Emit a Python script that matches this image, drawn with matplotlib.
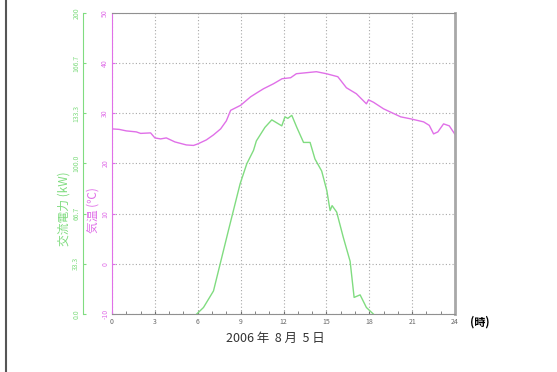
import numpy as np
import matplotlib
matplotlib.use('Agg')
from matplotlib import pyplot as plt
from matplotlib.lines import Line2D
from matplotlib.ticker import MultipleLocator

plt.rcParams['font.family'] = ['Noto Sans CJK JP', 'DejaVu Sans']

# temperature (C)
tempHours = [0.0, 0.5, 1.0, 1.7, 2.0, 2.7, 3.0, 3.4, 3.8, 4.4, 5.2, 5.7, 6.0, 6.6, 7.1, 7.6, 8.0,
             8.3, 9.0, 9.7, 10.2, 10.6, 11.3, 11.9, 12.5, 12.9, 13.6, 14.3, 15.0, 15.8, 16.4,
             17.1, 17.8, 17.95, 18.3, 19.0, 19.6, 20.2, 20.9, 21.8, 22.2, 22.5, 22.8, 23.2,
             23.6, 24.0]
tempValues = [26.9, 26.8, 26.5, 26.3, 26.0, 26.1, 25.1, 24.9, 25.1, 24.3, 23.7, 23.6, 23.9, 24.7,
              25.7, 26.9, 28.5, 30.6, 31.6, 33.3, 34.2, 34.9, 35.9, 36.9, 37.1, 37.9, 38.1,
              38.3, 37.9, 37.3, 35.1, 33.9, 31.9, 32.7, 32.2, 30.9, 30.1, 29.3, 28.9, 28.3,
              27.6, 25.9, 26.3, 27.9, 27.5, 25.8]

# AC power (kW)
powerHours = [5.93, 6.4, 7.1, 7.56, 8.14, 8.96, 9.43, 9.9, 10.1, 10.7, 11.18, 11.88, 12.1, 12.3,
              12.58, 12.93, 13.4, 13.86, 14.2, 14.67, 15.03, 15.26, 15.4, 15.72, 16.18, 16.66,
              16.94, 17.36, 17.8, 18.28]
powerValues = [0.0, 4.3, 15.3, 33.0, 55.3, 86.4, 99.8, 108.7, 115.0, 124.0, 129.0, 125.0, 131.0,
               130.0, 132.0, 124.0, 114.0, 114.0, 103.0, 95.0, 82.0, 68.7, 72.0, 67.7, 51.0,
               35.0, 11.0, 12.7, 4.3, 0.0]

xTicks = [0, 3, 6, 9, 12, 15, 18, 21, 24]
tempTicks = [-10, 0, 10, 20, 30, 40, 50]
powerTicks = [0, 200 / 6, 400 / 6, 100, 800 / 6, 1000 / 6, 200]
powerTickLabels = ['0.0', '33.3', '66.7', '100.0', '133.3', '166.7', '200']

pink = '#e070e8'
green = '#80dc80'
gray = '#909090'
tickSize = 5

fig = plt.figure(figsize=(5.57, 3.72), dpi=100)
ax = fig.add_axes([0.2011, 0.156, 0.6158, 0.809])

ax.plot(tempHours, tempValues, color=pink, lw=1.0)
ax.set_xlim(0, 24)
ax.set_ylim(-10, 50)
ax.set_xticks(xTicks)
ax.set_xticklabels([str(t) for t in xTicks], fontsize=tickSize, color='#666666')
ax.xaxis.set_minor_locator(MultipleLocator(1))
ax.tick_params(axis='x', which='both', direction='in', length=2, color='#707070', pad=3)
ax.set_yticks(tempTicks)
ax.set_yticklabels([str(t) for t in tempTicks], fontsize=tickSize, color=pink,
                   rotation=90, va='center')
ax.tick_params(axis='y', direction='in', length=2, color=pink, pad=2)
ax.grid(True, which='major', color='#a8a8a8', linestyle=(0, (1, 2)), lw=0.8)

ax.spines['left'].set_color(pink)
ax.spines['bottom'].set_color(gray)
ax.spines['top'].set_color(gray)
ax.spines['right'].set_color('#a8a8a8')
ax.spines['right'].set_linewidth(2)
ax.set_ylabel('気温 (℃)', color=pink, fontsize=8.5)
ax.yaxis.set_label_coords(-0.037, 0.345)

ax2 = ax.twinx()
ax2.plot(powerHours, powerValues, color=green, lw=1.0)
ax2.set_ylim(0, 200)
ax2.spines['right'].set_visible(False)
ax2.spines['top'].set_visible(False)
ax2.spines['bottom'].set_visible(False)
ax2.spines['left'].set_visible(True)
ax2.spines['left'].set_position(('axes', -0.0845))
ax2.spines['left'].set_color(green)
ax2.yaxis.tick_left()
ax2.yaxis.set_label_position('left')
ax2.set_yticks(powerTicks)
ax2.set_yticklabels(powerTickLabels, fontsize=tickSize, color=green, rotation=90, va='center')
ax2.tick_params(axis='y', direction='in', length=2, color=green, pad=2)
ax2.set_ylabel('交流電力 (kW)', color=green, fontsize=8.5)
ax2.yaxis.set_label_coords(-0.122, 0.35)

fig.text(0.843, 0.133, '(時)', fontsize=8, fontweight='bold', va='center', ha='left')
fig.text(0.495, 0.09, '2006 年  8 月  5 日', fontsize=9, color='#333333', ha='center', va='center')
fig.add_artist(Line2D([0.011, 0.011], [0, 1], color='#555555', lw=1.5, transform=fig.transFigure))

fig.savefig('out.png', dpi=100)
plt.close(fig)
